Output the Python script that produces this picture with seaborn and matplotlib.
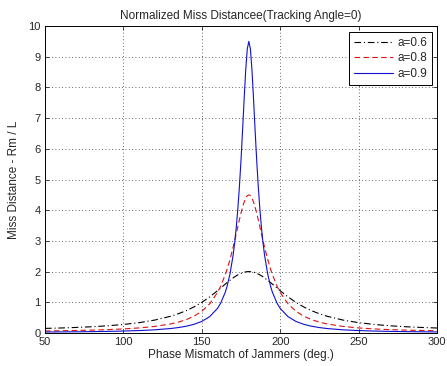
import matplotlib
matplotlib.use("Agg")
import matplotlib.pyplot as plt
import seaborn as sns
import pandas as pd

# Phase mismatch (deg.)
phase = [50, 60, 70, 80, 90, 100, 110, 120, 130, 135, 140, 145, 150, 155, 160, 162, 165, 166, 168,
         170, 171, 172, 173, 174, 175, 176, 177, 178, 179, 180,
         181, 182, 183, 184, 185, 186, 187, 188, 189, 190, 192, 194, 195, 198, 200, 205, 210, 215,
         220, 225, 230, 240, 250, 260, 270, 280, 290, 300]

a06 = [0.150, 0.163, 0.181, 0.204, 0.235, 0.278, 0.337, 0.421, 0.544, 0.626, 0.726, 0.849, 0.998,
       1.175, 1.377, 1.463, 1.593, 1.636, 1.718, 1.795, 1.831, 1.864, 1.894, 1.921, 1.944, 1.964,
       1.980, 1.991, 1.998, 2.000,
       1.998, 1.991, 1.980, 1.964, 1.944, 1.921, 1.894, 1.864, 1.831, 1.795, 1.718, 1.636, 1.593,
       1.463, 1.377, 1.175, 0.998, 0.849, 0.726, 0.626, 0.544, 0.421, 0.337, 0.278, 0.235, 0.204,
       0.181, 0.163]

a08 = [0.0675, 0.0738, 0.0823, 0.0939, 0.110, 0.132, 0.165, 0.214, 0.294, 0.354, 0.434, 0.547, 0.708,
       0.948, 1.319, 1.522, 1.905, 2.057, 2.401, 2.799, 3.015, 3.239, 3.467, 3.691, 3.905, 4.100,
       4.266, 4.392, 4.473, 4.500,
       4.473, 4.392, 4.266, 4.100, 3.905, 3.691, 3.467, 3.239, 3.015, 2.799, 2.401, 2.057, 1.905,
       1.522, 1.319, 0.948, 0.708, 0.547, 0.434, 0.354, 0.294, 0.214, 0.165, 0.132, 0.110, 0.0939,
       0.0823, 0.0738]

a09 = [0.0320, 0.0351, 0.0392, 0.0448, 0.0525, 0.0634, 0.0795, 0.104, 0.145, 0.177, 0.220, 0.283, 0.378,
       0.532, 0.801, 0.968, 1.332, 1.497, 1.926, 2.544, 2.954, 3.453, 4.06, 4.78, 5.63, 6.60,
       7.62, 8.56, 9.25, 9.50,
       9.25, 8.56, 7.62, 6.60, 5.63, 4.78, 4.06, 3.453, 2.954, 2.544, 1.926, 1.497, 1.332,
       0.968, 0.801, 0.532, 0.378, 0.283, 0.220, 0.177, 0.145, 0.104, 0.0795, 0.0634, 0.0525, 0.0448,
       0.0392, 0.0351]

labels = ["a=0.6", "a=0.8", "a=0.9"]
xticks = [50, 100, 150, 200, 250, 300]
yticks = list(range(0, 11))

rows = []
for lab, ys in zip(labels, [a06, a08, a09]):
    for x, y in zip(phase, ys):
        rows.append({"phase": x, "val": y, "series": lab})
df = pd.DataFrame(rows)

sns.set_style("ticks")
plt.rcParams['font.family'] = ['Liberation Sans', 'DejaVu Sans']

fig = plt.figure(figsize=(4.47, 3.66), dpi=100)
ax = fig.add_axes([45/447, 33/366, 392/447, 307/366])

palette = {"a=0.6": "#000000", "a=0.8": "#e01010", "a=0.9": "#1010d0"}
dashes = {"a=0.6": (6, 2.5, 1, 2.5), "a=0.8": (5, 3), "a=0.9": ""}
sns.lineplot(data=df, x="phase", y="val", hue="series", style="series",
             palette=palette, dashes=dashes, linewidth=0.8, ax=ax, legend=True)

ax.set_xlim(50, 300)
ax.set_ylim(0, 10)
ax.set_xticks(xticks)
ax.set_yticks(yticks)
ax.grid(True, linestyle=(0, (1, 3)), color="#333333", linewidth=0.6)
ax.tick_params(direction="in", top=True, right=True, labelsize=8, length=3, width=0.6, pad=3)
for s in ax.spines.values():
    s.set_linewidth(0.7)
    s.set_color("black")

ax.set_title("Normalized Miss Distancee(Tracking Angle=0)", fontsize=8.5, pad=5)
ax.set_xlabel("Phase Mismatch of Jammers (deg.)", fontsize=8.5, labelpad=1)
ax.set_ylabel("Miss Distance - Rm / L", fontsize=8.5, labelpad=6)

leg = ax.legend(loc="upper right", bbox_to_anchor=(0.987, 0.98), borderaxespad=0,
                fontsize=8.5, handlelength=3.3, frameon=True, fancybox=False,
                edgecolor="black", framealpha=1, borderpad=0.4, labelspacing=0.3,
                handletextpad=0.4)
leg.get_frame().set_linewidth(0.7)

fig.savefig("out.png", dpi=100)
